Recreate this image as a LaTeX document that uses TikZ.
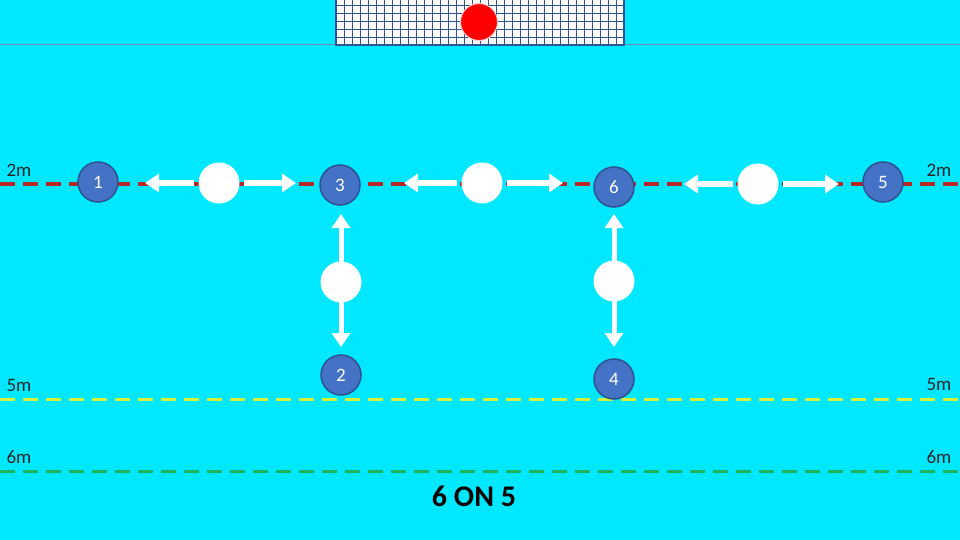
\documentclass[tikz,border=0pt]{standalone}
\usepackage{fontspec}
\setmainfont{Carlito}
\usetikzlibrary{arrows.meta}
\definecolor{pool}{RGB}{0,232,255}
\definecolor{pfill}{RGB}{68,114,196}
\definecolor{pedge}{RGB}{47,82,143}
\definecolor{netc}{RGB}{47,85,151}
\definecolor{redl}{RGB}{180,40,40}
\definecolor{yell}{RGB}{215,240,60}
\definecolor{grnl}{RGB}{30,180,90}
\tikzset{
  player/.style={circle,fill=pfill,draw=pedge,line width=1.5pt,minimum size=40pt,inner sep=0pt,text=white,font=\fontsize{19}{22}\selectfont},
  wball/.style={circle,fill=white,minimum size=41pt,inner sep=0pt},
  mv/.style={white,line width=5pt,-{Triangle[length=14pt,width=18pt]}},
  dlabel/.style={font=\fontsize{19}{22}\selectfont,text=black!85},
  lanel/.style={line width=3pt,dash pattern=on 15pt off 8pt}
}
\begin{document}
\begin{tikzpicture}[x=1pt,y=-1pt]
\fill[pool] (0,0) rectangle (960,540);
\useasboundingbox (0,0) rectangle (960,540);
% top line
\draw[netc!70,line width=0.8pt] (0,44) -- (960,44);
% goal
\fill[white] (336,0) rectangle (624,45);
\foreach \x in {344,352,...,616} \draw[netc,line width=0.7pt] (\x,0) -- (\x,45);
\foreach \y in {5,13,21,29,37} \draw[netc,line width=0.7pt] (336,\y) -- (624,\y);
\draw[netc,line width=1.5pt] (336,0) -- (336,45) -- (624,45) -- (624,0);
\node[circle,fill=red,draw=white!80!red,line width=1pt,minimum size=37pt,inner sep=0pt] (ball) at (479,22) {};
% lines
\draw[redl,lanel] (0,184) -- (960,184);
\draw[yell,lanel] (0,399) -- (960,399);
\draw[grnl,lanel] (0,471) -- (960,471);
% labels
\node[dlabel] (l2a) at (19,170) {2m};
\node[dlabel] (l2b) at (939,170) {2m};
\node[dlabel] (l5a) at (19,385) {5m};
\node[dlabel] (l5b) at (939,384) {5m};
\node[dlabel] (l6a) at (19,457) {6m};
\node[dlabel] (l6b) at (939,457) {6m};
% white balls (defenders)
\node[wball] (w1) at (219,183) {};
\node[wball] (w2) at (482,183) {};
\node[wball] (w3) at (758,184) {};
\node[wball] (w4) at (341,282) {};
\node[wball] (w5) at (614,281) {};
% arrow ends
\coordinate (a1l) at (145,184); \coordinate (a1r) at (296,183);
\coordinate (a2l) at (404,184); \coordinate (a2r) at (563,184);
\coordinate (a3l) at (684,184); \coordinate (a3r) at (839,184);
\coordinate (a4u) at (342,214); \coordinate (a4d) at (342,347);
\coordinate (a5u) at (614,214); \coordinate (a5d) at (614,347);
\draw[mv] ([xshift=-4pt]w1.west) -- (w1.west -| a1l);
\draw[mv] ([xshift=4pt]w1.east) -- (w1.east -| a1r);
\draw[mv] ([xshift=-4pt]w2.west) -- (w2.west -| a2l);
\draw[mv] ([xshift=4pt]w2.east) -- (w2.east -| a2r);
\draw[mv] ([xshift=-4pt]w3.west) -- (w3.west -| a3l);
\draw[mv] ([xshift=4pt]w3.east) -- (w3.east -| a3r);
\draw[mv] ([yshift=-6pt]w4.north) -- (w4.north |- a4u);
\draw[mv] ([yshift=6pt]w4.south) -- (w4.south |- a4d);
\draw[mv] ([yshift=-6pt]w5.north) -- (w5.north |- a5u);
\draw[mv] ([yshift=6pt]w5.south) -- (w5.south |- a5d);
% players
\node[player] (p1) at (98,182) {1};
\node[player] (p3) at (340,185) {3};
\node[player] (p6) at (614,187) {6};
\node[player] (p5) at (883,182) {5};
\node[player] (p2) at (341,375) {2};
\node[player] (p4) at (614,379) {4};
% title
\node[font=\fontsize{30}{34}\selectfont\bfseries] (title) at (474,496) {6 ON 5};
\end{tikzpicture}
\end{document}
